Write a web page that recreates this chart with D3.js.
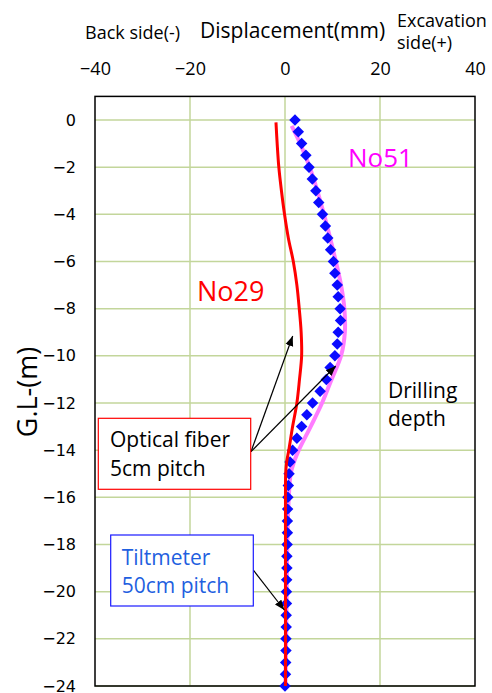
<!DOCTYPE html>
<html>
<head>
<meta charset="utf-8">
<script src="https://cdn.jsdelivr.net/npm/d3@7"></script>
<style>
  html, body { margin: 0; padding: 0; background: #fff; }
  svg { display: block; }
  .lbl { font-family: "Open Sans", sans-serif; }
</style>
</head>
<body>
<svg id="chart" width="492" height="693"></svg>
<script>
// Axis ticks
const xTicks = [-40, -20, 0, 20, 40];
const yTicks = [0, -2, -4, -6, -8, -10, -12, -14, -16, -18, -20, -22, -24];

// Tiltmeter readings (50 cm pitch): depth (m) and displacement (mm)
const tiltDepth = [0, -0.5, -1, -1.5, -2, -2.5, -3, -3.5, -4, -4.5, -5, -5.5, -6, -6.5, -7, -7.5,
  -8, -8.5, -9, -9.5, -10, -10.5, -11, -11.5, -12, -12.5, -13, -13.5, -14, -14.5, -15, -15.5,
  -16, -16.5, -17, -17.5, -18, -18.5, -19, -19.5, -20, -20.5, -21, -21.5, -22, -22.5, -23, -23.5, -24];
const tiltDisp = [2.1, 2.8, 3.5, 4.4, 5.05, 5.75, 6.5, 7.1, 7.9, 8.5, 9.0, 9.6, 10.2, 10.5, 11.0, 11.2,
  11.6, 11.7, 11.2, 11.0, 10.5, 9.5, 8.7, 7.4, 5.8, 4.6, 3.5, 2.5, 1.6, 1.05, 0.85, 0.7,
  0.6, 0.55, 0.5, 0.5, 0.45, 0.4, 0.4, 0.35, 0.3, 0.3, 0.25, 0.25, 0.2, 0.2, 0.15, 0.1, 0.0];

// Optical fiber profile No51
const no51Depth = [-0.25, -1, -2, -3, -4, -5, -6, -7, -8, -9, -10, -11, -12, -13, -14, -14.5, -15, -16, -17, -18, -20, -22, -24];
const no51Disp  = [1.4, 3.2, 5.2, 6.8, 8.2, 9.5, 10.7, 11.8, 12.5, 12.6, 11.8, 9.8, 7.8, 5.4, 2.9, 1.9, 1.2, 0.8, 0.6, 0.5, 0.35, 0.25, 0.1];

// Optical fiber profile No29
const no29Depth = [-0.1, -1, -2, -3, -4, -5, -6, -7, -8, -9, -10, -11, -12, -13, -14, -14.5, -15, -16, -18, -20, -22, -24];
const no29Disp  = [-1.9, -1.65, -1.3, -0.75, -0.1, 0.7, 1.75, 2.5, 3.0, 3.4, 3.5, 3.05, 2.5, 1.6, 0.8, 0.35, 0.15, 0.1, 0.1, 0.1, 0.1, 0.1];

const svg = d3.select("#chart");
const L = 95, R = 475, T = 96.4, B = 686;

const x = d3.scaleLinear().domain([-40, 40]).range([L, R]);
const y = d3.scaleLinear().domain([1, -24]).range([T, B]);

// grid
const grid = svg.append("g").attr("stroke", "#c3d69b").attr("stroke-width", 1.5);
grid.selectAll("line.v").data(xTicks.filter(d => d > -40 && d < 40)).join("line")
  .attr("x1", d => x(d)).attr("x2", d => x(d)).attr("y1", T).attr("y2", B);
grid.selectAll("line.h").data(yTicks).join("line")
  .attr("x1", L).attr("x2", R).attr("y1", d => y(d)).attr("y2", d => y(d));

// frame
svg.append("rect").attr("x", L).attr("y", T).attr("width", R - L).attr("height", B - T)
  .attr("fill", "none").attr("stroke", "#000").attr("stroke-width", 1.5);

// axes (labels only)
const xAxis = svg.append("g").attr("transform", "translate(0,75)")
  .call(d3.axisTop(x).tickValues(xTicks).tickSize(0).tickPadding(0));
xAxis.select(".domain").remove();
xAxis.selectAll("text").attr("font-family", "Open Sans, sans-serif").attr("font-size", 18)
  .attr("fill", "#000").attr("dy", "0");

const yAxis = svg.append("g").attr("transform", "translate(76,0)")
  .call(d3.axisLeft(y).tickValues(yTicks).tickSize(0).tickPadding(0));
yAxis.select(".domain").remove();
yAxis.selectAll("text").attr("font-family", "DejaVu Sans, sans-serif").attr("font-size", 16)
  .attr("fill", "#000");

// series
const lineGen = d3.line().x(d => x(d[1])).y(d => y(d[0])).curve(d3.curveCatmullRom.alpha(0.5));

svg.append("path").datum(no51Depth.map((d, i) => [d, no51Disp[i]]))
  .attr("d", lineGen).attr("fill", "none").attr("stroke", "#ff7cff").attr("stroke-width", 4);

const diamond = d3.symbol(d3.symbolSquare, 66);
svg.append("g").selectAll("path").data(tiltDepth.map((d, i) => [d, tiltDisp[i]])).join("path")
  .attr("d", diamond)
  .attr("transform", d => `translate(${x(d[1])},${y(d[0])}) rotate(45)`)
  .attr("fill", "#0a0aff");

svg.append("path").datum(no29Depth.map((d, i) => [d, no29Disp[i]]))
  .attr("d", lineGen).attr("fill", "none").attr("stroke", "#ff0000").attr("stroke-width", 3);

// arrow marker
svg.append("defs").append("marker").attr("id", "arr")
  .attr("viewBox", "0 0 10 10").attr("refX", 10).attr("refY", 5)
  .attr("markerWidth", 10).attr("markerHeight", 10).attr("markerUnits", "userSpaceOnUse")
  .attr("orient", "auto")
  .append("path").attr("d", "M0,1 L10,5 L0,9 Z").attr("fill", "#000");

function arrow(x1, y1, x2, y2) {
  svg.append("line").attr("x1", x1).attr("y1", y1).attr("x2", x2).attr("y2", y2)
    .attr("stroke", "#000").attr("stroke-width", 1.2).attr("marker-end", "url(#arr)");
}

// titles
const t = (txt, tx, ty, size, fill, anchor) => svg.append("text").attr("class", "lbl")
  .attr("x", tx).attr("y", ty).attr("font-size", size).attr("fill", fill || "#000")
  .attr("text-anchor", anchor || "start").text(txt);

t("Back side(-)", 85, 39, 18);
t("Displacement(mm)", 200, 38, 21);
t("Excavation", 397, 27, 18);
t("side(+)", 397, 49, 18);

svg.append("text").attr("class", "lbl").attr("font-size", 27)
  .attr("transform", "translate(37,392) rotate(-90)").attr("text-anchor", "middle")
  .attr("fill", "#000").text("G.L-(m)");

// series labels
t("No51", 348, 167, 26, "#ff00ff");
t("No29", 197, 301, 27, "#ff0000");
t("Drilling", 388, 398, 21);
t("depth", 388, 426, 21);

// callouts
arrow(251, 451.7, 292.7, 336);
arrow(251, 451.7, 335.7, 366);
arrow(253.3, 570, 284.3, 610);

svg.append("rect").attr("x", 98.3).attr("y", 418.3).attr("width", 152.4).attr("height", 71)
  .attr("fill", "#fff").attr("stroke", "#ff0000").attr("stroke-width", 1.2);
t("Optical fiber", 110, 446.5, 21);
t("5cm pitch", 110, 476, 21);

svg.append("rect").attr("x", 110.7).attr("y", 535).attr("width", 142.6).attr("height", 71)
  .attr("fill", "#fff").attr("stroke", "#1a1aff").attr("stroke-width", 1.2);
t("Tiltmeter", 121.7, 565, 21, "#1f5fe0");
t("50cm pitch", 121.7, 593, 21, "#1f5fe0");
</script>
</body>
</html>
